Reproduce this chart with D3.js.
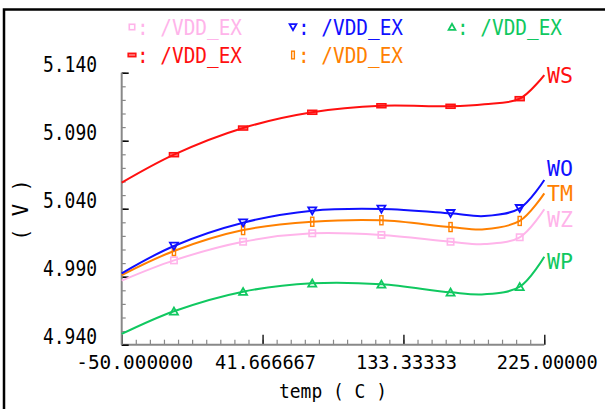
<!DOCTYPE html>
<html>
<head>
<meta charset="utf-8">
<script src="https://cdn.jsdelivr.net/npm/d3@7"></script>
<style>
  html, body { margin: 0; padding: 0; background: #fff; }
  svg { display: block; }
  text { font-family: "DejaVu Sans Mono", monospace; }
</style>
</head>
<body>
<div id="chart"></div>
<script>
// ---- data ----
const temps = [-50, -16, 29, 74, 119, 164, 186, 209, 225];
const markerIdx = [1, 2, 3, 4, 5, 7];
const seriesNames = ["WS", "WO", "TM", "WZ", "WP"];
const WS = [5.0591, 5.0797, 5.0993, 5.1109, 5.1157, 5.1153, 5.1168, 5.1209, 5.1383];
const WO = [4.9925, 5.0126, 5.0297, 5.0385, 5.0398, 5.0366, 5.0346, 5.0403, 5.0611];
const TM = [4.9912, 5.0089, 5.0243, 5.0304, 5.0315, 5.0265, 5.0249, 5.0310, 5.0513];
const WZ = [4.9871, 5.0020, 5.0157, 5.0219, 5.0207, 5.0157, 5.0140, 5.0190, 5.0396];
const WP = [4.9479, 4.9646, 4.9790, 4.9851, 4.9844, 4.9785, 4.9771, 4.9826, 5.0047];
const xTickValues = [-50, 41.666667, 133.33333, 225];
const xTickLabels = ["-50.000000", "41.666667", "133.33333", "225.00000"];
const yTickValues = [4.94, 4.99, 5.04, 5.09, 5.14];
const yTickLabels = ["4.940", "4.990", "5.040", "5.090", "5.140"];
const legendOrder = ["WZ", "WO", "WP", "WS", "TM"];
const legendText = "/VDD_EX";

// ---- styles ----
const colors = { WS: "#ff1010", WO: "#1010ff", TM: "#ff8000", WZ: "#ffb4ea", WP: "#10c860" };
const labelDy = { WS: 0, WO: -12, TM: 0, WZ: 9.5, WP: 4.3 };

const W = 605, H = 409;
const m = { left: 121.7, right: 544.3, top: 72.7, bottom: 344.7 };

const svg = d3.select("#chart").append("svg").attr("width", W).attr("height", H);

// frame (top + left only)
svg.append("path").attr("d", `M4,${H} V9.5 H${W}`).attr("fill", "none")
  .attr("stroke", "#000").attr("stroke-width", 2.5);

const x = d3.scaleLinear().domain([-50, 225]).range([m.left, m.right]);
const y = d3.scaleLinear().domain([4.94, 5.14]).range([m.bottom, m.top]);

// minor ticks
const xMinor = d3.range(0, 31).map(i => -50 + i * 275 / 30);
const yMinor = d3.range(0, 21).map(i => 4.94 + i * 0.01);

const gx = svg.append("g").attr("transform", `translate(0,${m.bottom})`);
gx.append("g").call(d3.axisTop(x).tickValues(xMinor).tickSize(5).tickFormat(""))
  .call(g => { g.select(".domain").remove(); g.selectAll("line").attr("stroke", "#888").attr("stroke-width", 1.2); });
const gxMaj = gx.append("g").call(d3.axisTop(x).tickValues(xTickValues).tickSize(10).tickFormat(""));
gxMaj.select(".domain").remove();
gxMaj.selectAll("line").attr("stroke", "#000").attr("stroke-width", 1.3);
gx.append("line").attr("x1", m.left).attr("x2", m.right).attr("y1", 0).attr("y2", 0)
  .attr("stroke", "#888").attr("stroke-width", 2);
gx.selectAll("text.xl").data(xTickValues).enter().append("text").attr("class", "xl")
  .attr("x", (d, i) => x(d) + (i === 0 ? 13 : 3))
  .attr("y", 24.5).attr("text-anchor", "middle").attr("font-size", 19.5).attr("fill", "#000")
  .attr("textLength", (d, i) => i === 0 ? 117 : 101).attr("lengthAdjust", "spacingAndGlyphs")
  .text((d, i) => xTickLabels[i]);

const gy = svg.append("g").attr("transform", `translate(${m.left},0)`);
gy.append("g").call(d3.axisRight(y).tickValues(yMinor).tickSize(4).tickFormat(""))
  .call(g => { g.select(".domain").remove(); g.selectAll("line").attr("stroke", "#888").attr("stroke-width", 1.2); });
const gyMaj = gy.append("g").call(d3.axisRight(y).tickValues(yTickValues).tickSize(7).tickFormat(""));
gyMaj.select(".domain").remove();
gyMaj.selectAll("line").attr("stroke", "#000").attr("stroke-width", 1.5);
gy.append("line").attr("x1", 0).attr("x2", 0).attr("y1", m.top).attr("y2", m.bottom)
  .attr("stroke", "#888").attr("stroke-width", 2);
gy.selectAll("text.yl").data(yTickValues).enter().append("text").attr("class", "yl")
  .attr("x", 97 - m.left).attr("y", d => y(d) - 1)
  .attr("text-anchor", "end").attr("font-size", 20.5).attr("fill", "#000")
  .attr("textLength", 54).attr("lengthAdjust", "spacingAndGlyphs")
  .text((d, i) => yTickLabels[i]);

// axis titles
svg.append("text").attr("x", (m.left + m.right) / 2).attr("y", 398)
  .attr("text-anchor", "middle").attr("font-size", 19.5)
  .attr("textLength", 108).attr("lengthAdjust", "spacingAndGlyphs").text("temp ( C )");
svg.append("text").attr("transform", "translate(28,210) rotate(-90)")
  .attr("text-anchor", "middle").attr("font-size", 20.5).text("( V )");

// markers
function drawMarker(g, name, cx, cy, s) {
  const c = colors[name];
  s = s || 1;
  if (name === "WZ") {
    g.append("rect").attr("x", cx - 3.2 * s).attr("y", cy - 3.2 * s).attr("width", 6.4 * s).attr("height", 6.4 * s)
      .attr("fill", "none").attr("stroke", c).attr("stroke-width", 1.6);
  } else if (name === "WO") {
    g.append("path").attr("d", `M${cx - 4 * s},${cy - 3.3 * s} L${cx + 4 * s},${cy - 3.3 * s} L${cx},${cy + 3.7 * s} Z`)
      .attr("fill", "none").attr("stroke", c).attr("stroke-width", 1.8);
  } else if (name === "WP") {
    g.append("path").attr("d", `M${cx - 4 * s},${cy + 3.3 * s} L${cx + 4 * s},${cy + 3.3 * s} L${cx},${cy - 3.7 * s} Z`)
      .attr("fill", "none").attr("stroke", c).attr("stroke-width", 1.8);
  } else if (name === "WS") {
    g.append("rect").attr("x", cx - 4.5 * s).attr("y", cy - 2 * s).attr("width", 9 * s).attr("height", 4 * s)
      .attr("fill", c).attr("fill-opacity", 0.6).attr("stroke", c).attr("stroke-width", 1.5);
  } else if (name === "TM") {
    g.append("rect").attr("x", cx - 1.6 * s).attr("y", cy - 4.5 * s).attr("width", 3.2 * s).attr("height", 9 * s)
      .attr("fill", "none").attr("stroke", c).attr("stroke-width", 1.4);
  }
}

const dataMap = { WS, WO, TM, WZ, WP };
const line = d3.line().x(d => x(d[0])).y(d => y(d[1])).curve(d3.curveCatmullRom.alpha(0.5));

const drawOrder = ["WZ", "WP", "TM", "WO", "WS"];
drawOrder.forEach(name => {
  const vals = dataMap[name];
  const pts = temps.map((t, i) => [t, vals[i]]);
  svg.append("path").datum(pts).attr("d", line).attr("fill", "none")
    .attr("stroke", colors[name]).attr("stroke-width", 2);
  const g = svg.append("g");
  markerIdx.forEach(i => drawMarker(g, name, x(temps[i]), y(vals[i])));
  svg.append("text").attr("x", 547).attr("y", y(vals[vals.length - 1]) + labelDy[name] + 8)
    .attr("font-size", 22).attr("fill", colors[name])
    .attr("textLength", 26).attr("lengthAdjust", "spacingAndGlyphs").text(name);
});

// legend
const legCols = [132, 293, 452];
const legRows = [27, 55];
legendOrder.forEach((name, k) => {
  const col = k % 3, row = Math.floor(k / 3);
  const cx = legCols[col], cy = legRows[row];
  const g = svg.append("g");
  drawMarker(g, name, cx, cy, 0.85);
  svg.append("text").attr("x", cx + 5).attr("y", cy + 7.6).attr("font-size", 21)
    .attr("textLength", 105).attr("lengthAdjust", "spacingAndGlyphs")
    .attr("fill", colors[name]).text(": " + legendText);
});
</script>
</body>
</html>
